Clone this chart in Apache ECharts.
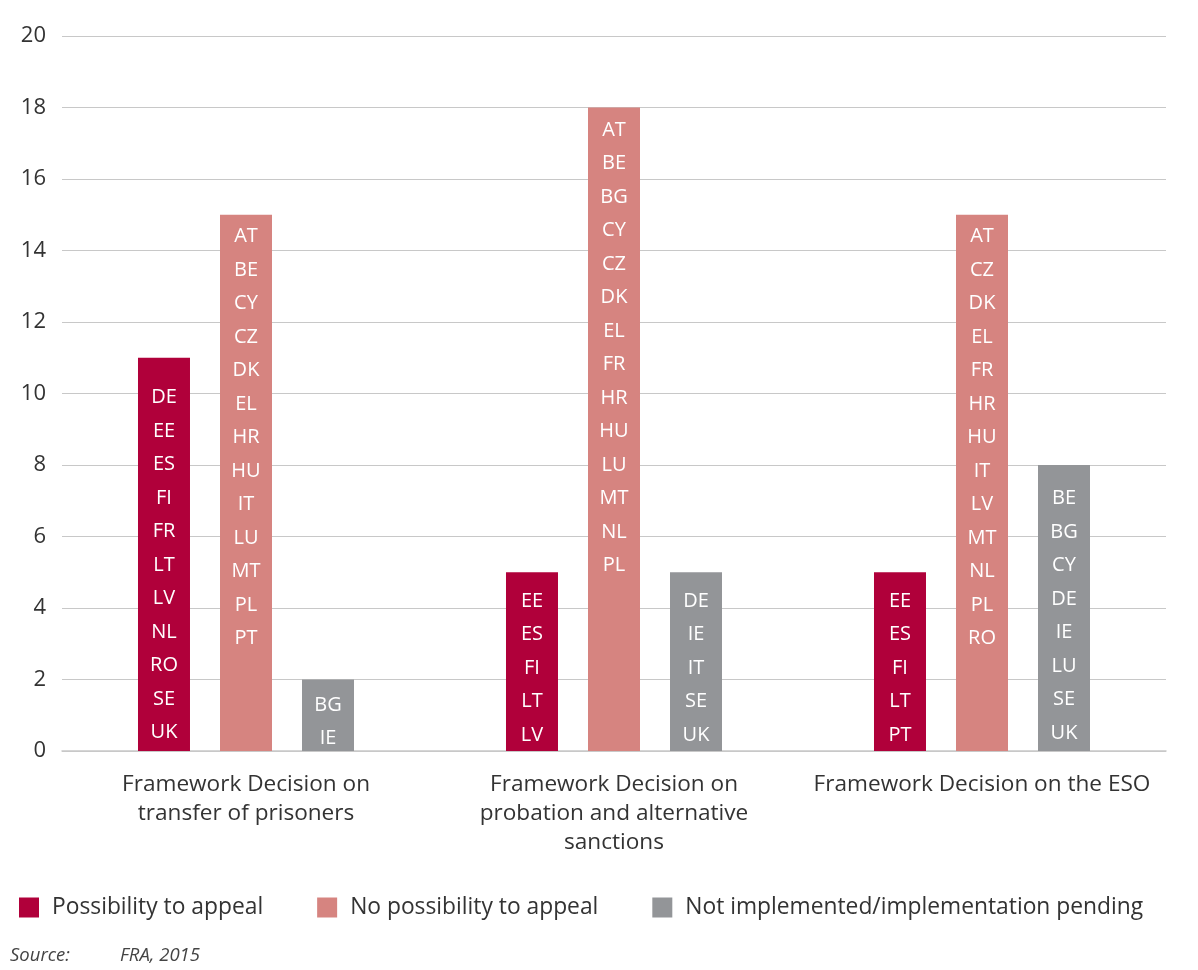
<!DOCTYPE html>
<html><head><meta charset="utf-8">
<script src="https://cdn.jsdelivr.net/npm/echarts@6/dist/echarts.min.js"></script>
<style>html,body{margin:0;padding:0;background:#fff}#c{width:1198px;height:970px}</style>
</head><body><div id="c"></div>
<script>
const categories = ['Framework Decision on\ntransfer of prisoners', 'Framework Decision on\nprobation and alternative\nsanctions', 'Framework Decision on the ESO'];
const seriesNames = ['Possibility to appeal', 'No possibility to appeal', 'Not implemented/implementation pending'];
const appealValues = [11, 5, 5];
const noAppealValues = [15, 18, 15];
const notImplValues = [2, 5, 8];
const appealCodes = [
  ['DE','EE','ES','FI','FR','LT','LV','NL','RO','SE','UK'],
  ['EE','ES','FI','LT','LV'],
  ['EE','ES','FI','LT','PT']
];
const noAppealCodes = [
  ['AT','BE','CY','CZ','DK','EL','HR','HU','IT','LU','MT','PL','PT'],
  ['AT','BE','BG','CY','CZ','DK','EL','FR','HR','HU','LU','MT','NL','PL'],
  ['AT','CZ','DK','EL','FR','HR','HU','IT','LV','MT','NL','PL','RO']
];
const notImplCodes = [
  ['BG','IE'],
  ['DE','IE','IT','SE','UK'],
  ['BE','BG','CY','DE','IE','LU','SE','UK']
];
const yTicks = [0, 2, 4, 6, 8, 10, 12, 14, 16, 18, 20];

const FONT = 'Open Sans';
const colors = ['#B0003A', '#D68480', '#939598'];
const labelPad = [[23, 12, 12], [5, 6, 5], [9, 12, 17]];

function mkSeries(i, vals, codes) {
  return {
    name: seriesNames[i], type: 'bar', barWidth: 52, barGap: '57.7%',
    itemStyle: { color: colors[i] },
    data: vals.map((v, k) => ({
      value: v,
      label: {
        show: true, position: 'insideTop', distance: labelPad[i][k],
        formatter: codes[k].join('\n'),
        color: '#fff', fontFamily: FONT, fontSize: 20, lineHeight: 33.5
      }
    }))
  };
}

const chart = echarts.init(document.getElementById('c'), null, { renderer: 'canvas' });
chart.setOption({
  animation: false,
  color: colors,
  grid: { left: 62, right: 32, top: 36, bottom: 219, containLabel: false },
  legend: {
    left: 14, bottom: 46, itemWidth: 20, itemHeight: 20, itemGap: 54,
    icon: 'rect',
    textStyle: { fontFamily: FONT, fontSize: 22.8, color: '#333', padding: [0, 0, 0, 8] },
    data: seriesNames
  },
  xAxis: {
    type: 'category', data: categories,
    axisLine: { lineStyle: { color: '#c8c8c8', width: 1.5 } },
    axisTick: { show: false },
    axisLabel: { fontFamily: FONT, fontSize: 22.6, color: '#333', lineHeight: 29, margin: 19, interval: 0 }
  },
  yAxis: {
    type: 'value', min: 0, max: 20, interval: 2,
    axisLine: { show: false }, axisTick: { show: false },
    splitLine: { lineStyle: { color: '#c8c8c8', width: 1.2 } },
    axisLabel: { fontFamily: FONT, fontSize: 22, color: '#333', margin: 16,
      formatter: v => yTicks.includes(v) ? String(v) : '' }
  },
  graphic: [
    { type: 'text', left: 10, top: 946, style: { text: 'Source:', font: 'italic 18.5px "Open Sans"', fill: '#444' } },
    { type: 'text', left: 120, top: 946, style: { text: 'FRA, 2015', font: 'italic 18.5px "Open Sans"', fill: '#444' } }
  ],
  series: [
    mkSeries(0, appealValues, appealCodes),
    mkSeries(1, noAppealValues, noAppealCodes),
    mkSeries(2, notImplValues, notImplCodes)
  ]
});
</script></body></html>
